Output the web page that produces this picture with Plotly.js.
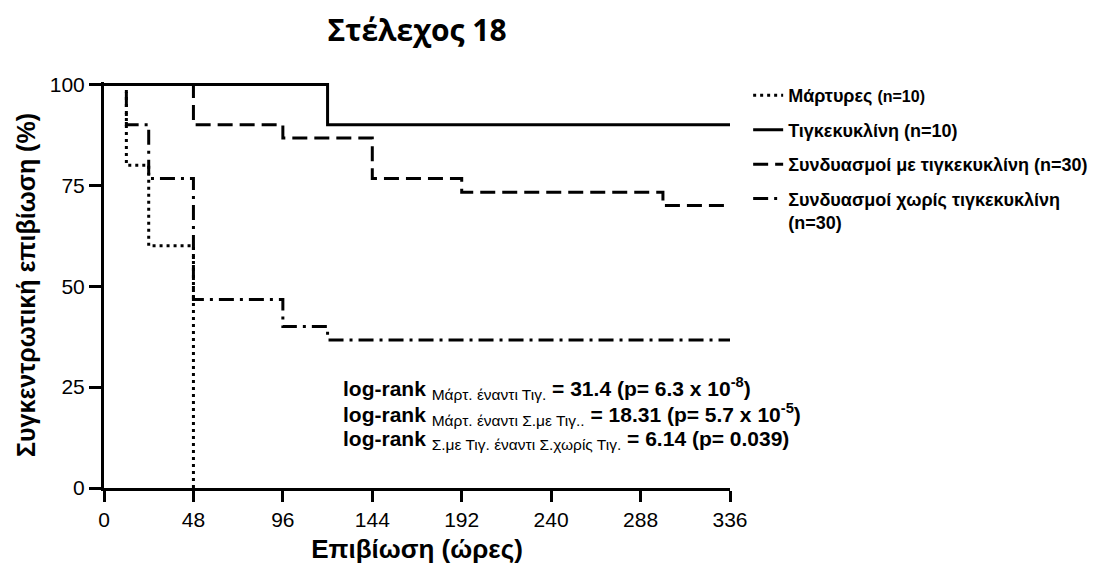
<!DOCTYPE html>
<html>
<head>
<meta charset="utf-8">
<script src="https://cdn.plot.ly/plotly-3.0.1.min.js"></script>
<style>
  html, body { margin: 0; padding: 0; background: #fff; }
  #chart { width: 1105px; height: 570px; }
</style>
</head>
<body>
<div id="chart"></div>
<script>
// Kaplan–Meier survival, strain 18 (hours vs cumulative survival %)
const controlTimes = [0, 12, 24, 48];
const controlSurv  = [100, 80, 60, 0];

const tigTimes = [0, 120, 336];
const tigSurv  = [100, 90, 90];

const comboTigTimes = [0, 48, 96, 144, 192, 300, 336];
const comboTigSurv  = [100, 90, 86.7, 76.7, 73.3, 70, 70];

const comboNoTigTimes = [0, 12, 24, 48, 96, 120, 336];
const comboNoTigSurv  = [100, 90, 76.7, 46.7, 40, 36.7, 36.7];

const seriesNames = [
  '<b>Μάρτυρες </b><span style="font-size:16px;font-weight:bold">(n=10)</span>',
  '<b>Τιγκεκυκλίνη (n=10)</b>',
  '<b>Συνδυασμοί με τιγκεκυκλίνη (n=30)</b>',
  '<b>Συνδυασμοί χωρίς τιγκεκυκλίνη<br>(n=30)</b>'
];

const xTicks = [0, 48, 96, 144, 192, 240, 288, 336];
const yTicks = [0, 25, 50, 75, 100];

const sub = s => '<sub><span style="font-size:15.5px">' + s + '</span></sub>';
const statLines = [
  '<b>log-rank</b> ' + sub('Μάρτ. έναντι Τιγ.') + ' <b>= 31.4 (p= 6.3 x 10<sup>-8</sup>)</b>',
  '<b>log-rank</b> ' + sub('Μάρτ. έναντι Σ.με Τιγ..') + ' <b>= 18.31 (p= 5.7 x 10<sup>-5</sup>)</b>',
  '<b>log-rank</b> ' + sub('Σ.με Τιγ. έναντι Σ.χωρίς Τιγ.') + ' <b>= 6.14 (p= 0.039)</b>'
];

const FONT = '"Liberation Sans", Arial, Helvetica, sans-serif';
const TITLE_FONT = '"Open Sans", "Noto Sans", sans-serif';

function km(x, y, name, dash, group) {
  return {
    x: x, y: y, name: name, legendgroup: group,
    type: 'scatter', mode: 'lines',
    line: { shape: 'hv', color: '#000', width: 3, dash: dash },
    hoverinfo: 'skip'
  };
}

const data = [
  km(controlTimes, controlSurv, seriesNames[0], '3px,4px', 'a'),
  km(tigTimes, tigSurv, seriesNames[1], 'solid', 'b'),
  km(comboTigTimes, comboTigSurv, seriesNames[2], '15px,7px', 'c'),
  km(comboNoTigTimes, comboNoTigSurv, seriesNames[3], '15px,6px,3px,6px', 'd')
];

// log-rank statistics, one line each
const statAnnotations = statLines.map((t, i) => ({
  xref: 'paper', yref: 'paper',
  x: 0.379, y: 0.244 - i * 0.063, xanchor: 'left', yanchor: 'middle',
  align: 'left', showarrow: false,
  text: t,
  font: { size: 21, family: FONT, color: '#000' }
}));

const layout = {
  width: 1105, height: 570,
  paper_bgcolor: '#fff', plot_bgcolor: '#fff',
  margin: { l: 104, r: 373, t: 82, b: 82 },
  font: { family: FONT, color: '#000' },
  title: {
    text: '<b>Στέλεχος 18</b>',
    font: { size: 30, family: TITLE_FONT, color: '#000' },
    x: 0.5, xref: 'paper', xanchor: 'center',
    y: 0.947, yref: 'container', yanchor: 'middle'
  },
  xaxis: {
    range: [0, 336],
    tickvals: xTicks, ticktext: xTicks.map(String),
    showgrid: false, zeroline: false,
    showline: true, linecolor: '#000', linewidth: 3,
    ticks: 'outside', ticklen: 11, tickwidth: 3, tickcolor: '#000',
    tickfont: { size: 21, family: FONT },
    title: { text: '<b>Επιβίωση (ώρες)</b>', font: { size: 26, family: FONT }, standoff: 10 }
  },
  yaxis: {
    range: [0, 100.6],
    tickvals: yTicks, ticktext: yTicks.map(String),
    showgrid: false, zeroline: false,
    showline: true, linecolor: '#000', linewidth: 3,
    ticks: 'outside', ticklen: 12, tickwidth: 3, tickcolor: '#000',
    tickfont: { size: 21, family: FONT },
    title: { text: '<b>Συγκεντρωτική επιβίωση (%)</b>', font: { size: 25, family: FONT }, standoff: 8 }
  },
  showlegend: true,
  legend: {
    x: 1.029, xanchor: 'left', y: 1.012, yanchor: 'top',
    font: { size: 18, family: FONT, color: '#000' },
    bgcolor: 'rgba(0,0,0,0)', borderwidth: 0,
    tracegroupgap: 8, valign: 'top',
    traceorder: 'grouped'
  },
  annotations: statAnnotations
};

Plotly.newPlot('chart', data, layout, { displayModeBar: false, staticPlot: true });
</script>
</body>
</html>
